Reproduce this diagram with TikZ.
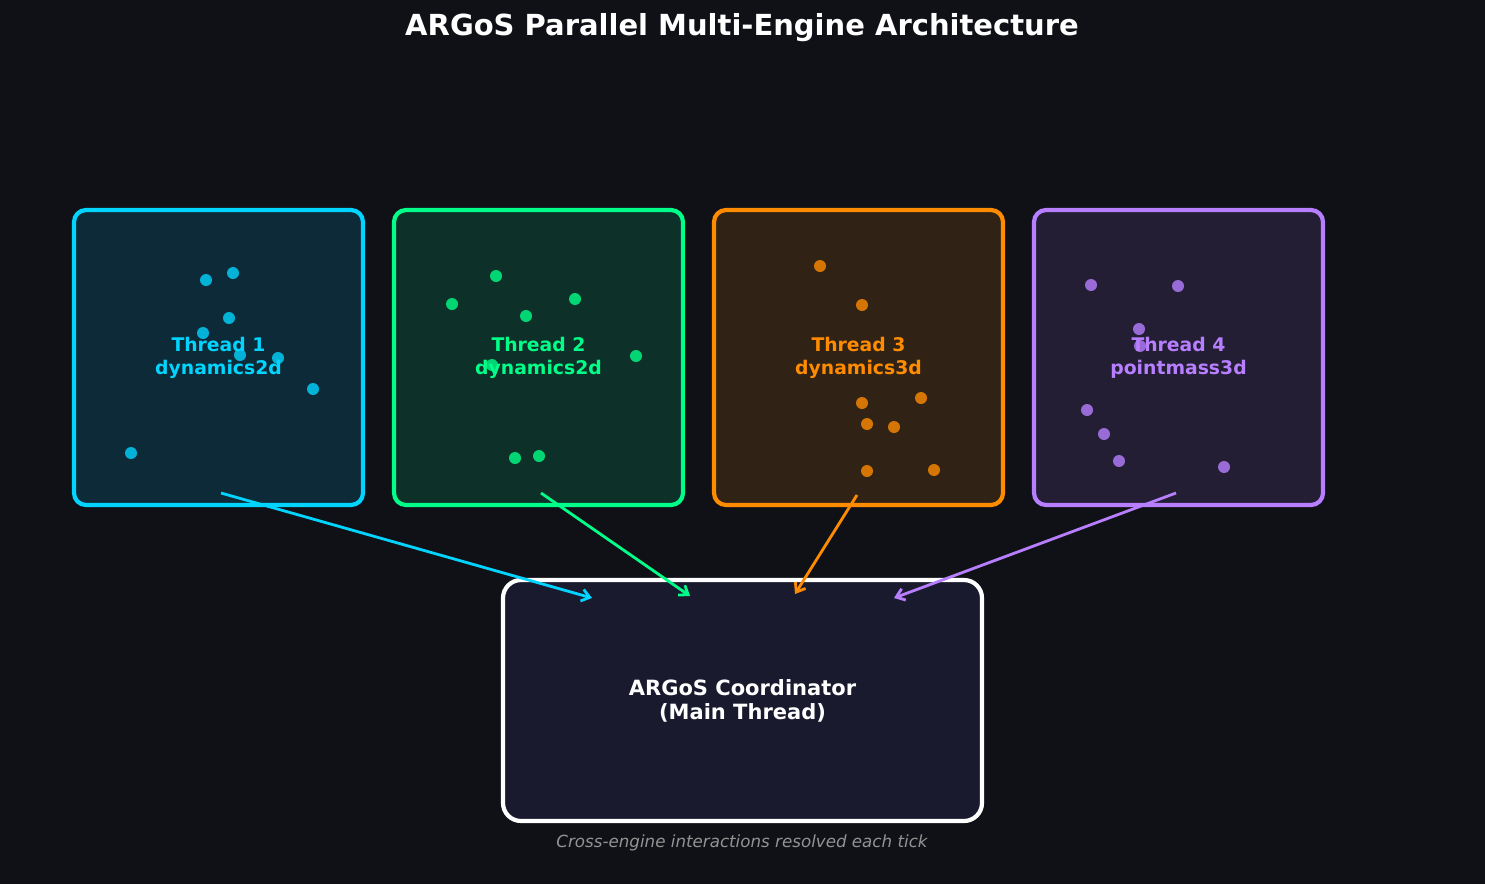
\documentclass[tikz,border=0pt]{standalone}
\usepackage{fontspec}
\setmainfont{DejaVu Sans}
\usetikzlibrary{arrows.meta}
\definecolor{bg}{HTML}{101117}
\definecolor{cA}{HTML}{00D4FF}\definecolor{fA}{HTML}{0D2A38}
\definecolor{cB}{HTML}{00FF88}\definecolor{fB}{HTML}{0D3028}
\definecolor{cC}{HTML}{FF8C00}\definecolor{fC}{HTML}{302214}
\definecolor{cD}{HTML}{B77FFF}\definecolor{fD}{HTML}{231E33}
\definecolor{fM}{HTML}{1A1A2E}
\begin{document}
\begin{tikzpicture}[x=1pt,y=-1pt,
  box/.style={draw,line width=4.2pt,rounded corners=12pt},
  lab/.style={font=\bfseries\fontsize{18.8}{22.5}\selectfont,align=center},
  dot/.style={circle,inner sep=0pt,minimum size=12pt,opacity=0.8},
  arr/.style={line width=2.8pt,-{Straight Barb[length=8pt,width=12pt]}}]
\fill[bg] (0,0) rectangle (1485,884);
\useasboundingbox (0,0) rectangle (1485,884);
\node[font=\bfseries\fontsize{29}{34}\selectfont,text=white] (title) at (742,28) {ARGoS Parallel Multi-Engine Architecture};
\foreach \x/\c/\f in {74/cA/fA,394/cB/fB,714/cC/fC,1034/cD/fD}
  \draw[box,draw=\c,fill=\f] (\x,210) rectangle ++(289,295);
\draw[box,draw=white,fill=fM,rounded corners=18pt] (503,580) rectangle (982,821);
\foreach \p in {(206,280),(233,273),(229,318),(203,333),(240,355),(278,358),(313,389),(131,453)} \node[dot,fill=cA] at \p {};
\foreach \p in {(496,276),(452,304),(526,316),(575,299),(636,356),(492,365),(515,458),(539,456)} \node[dot,fill=cB] at \p {};
\foreach \p in {(820,266),(862,305),(862,403),(921,398),(867,424),(894,427),(867,471),(934,470)} \node[dot,fill=cC] at \p {};
\foreach \p in {(1091,285),(1178,286),(1139,329),(1140,346),(1087,410),(1104,434),(1119,461),(1224,467)} \node[dot,fill=cD] at \p {};
\node[lab,text=cA] (t1) at (218.5,358) {Thread 1\\dynamics2d};
\node[lab,text=cB] (t2) at (538.5,358) {Thread 2\\dynamics2d};
\node[lab,text=cC] (t3) at (858.5,358) {Thread 3\\dynamics3d};
\node[lab,text=cD] (t4) at (1178.5,358) {Thread 4\\pointmass3d};
\node[lab,text=white,font=\bfseries\fontsize{21}{23.5}\selectfont] (co) at (742.5,701) {ARGoS Coordinator\\(Main Thread)};
\node[text=gray!85,font=\itshape\fontsize{16.7}{19}\selectfont] (note) at (742,843) {Cross-engine interactions resolved each tick};
\coordinate (s1) at (221,493);\coordinate (e1) at (592,598);
\coordinate (s2) at (541,493);\coordinate (e2) at (690,596);
\coordinate (s3) at (857,495);\coordinate (e3) at (795,594);
\coordinate (s4) at (1176,493);\coordinate (e4) at (894,598);
\draw[arr,cA] (s1) -- (e1);
\draw[arr,cB] (s2) -- (e2);
\draw[arr,cC] (s3) -- (e3);
\draw[arr,cD] (s4) -- (e4);
\end{tikzpicture}
\end{document}
